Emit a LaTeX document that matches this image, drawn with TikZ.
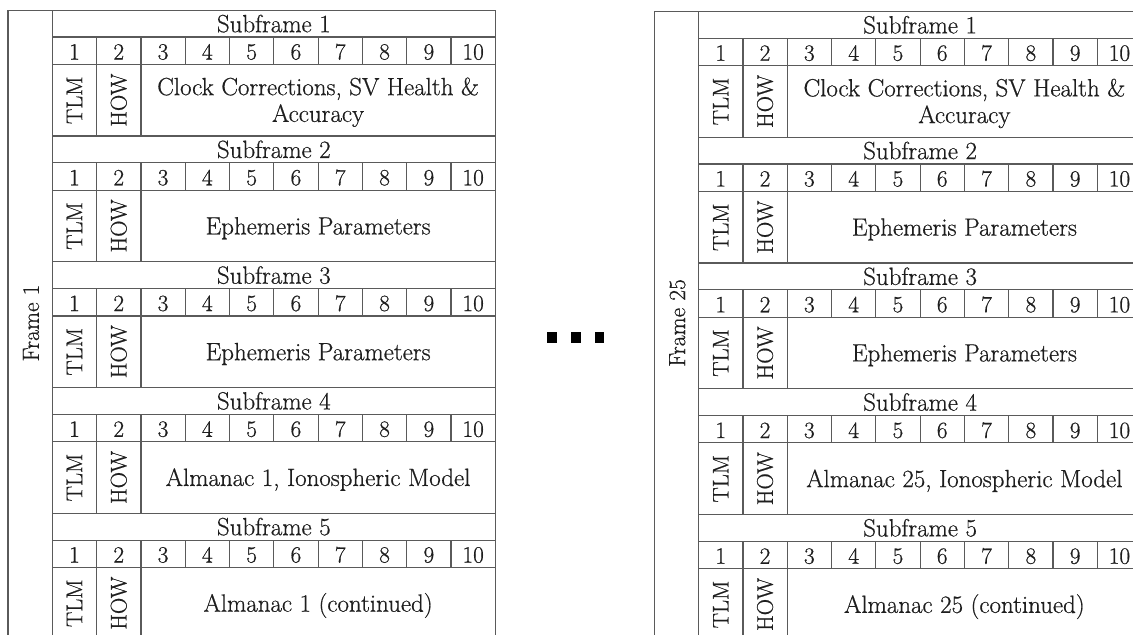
\documentclass[tikz,border=0pt]{standalone}
\usepackage{fontspec}
\setmainfont{Latin Modern Roman}[FakeBold=0.6]
\definecolor{gridgray}{HTML}{5A5A5A}
\definecolor{txt}{HTML}{1E1E1E}
\tikzset{
  gline/.style={draw=gridgray, line width=0.9pt},
  lbl/.style={anchor=base, font=\fontsize{18.7}{20}\selectfont, text=txt, inner sep=0pt},
  bodytwo/.style={anchor=center, align=center, font=\fontsize{18.7}{20}\selectfont, text=txt, inner sep=0pt},
  num/.style={anchor=base, font=\fontsize{17.5}{19}\selectfont, text=txt, inner sep=0pt},
  vtxt/.style={rotate=90, anchor=center, font=\fontsize{17}{19}\selectfont, text=txt, inner sep=0pt},
  framelbl/.style={rotate=90, anchor=center, font=\fontsize{17.6}{20}\selectfont, text=txt, inner sep=0pt},
  dotbox/.style={fill=black, draw=none, minimum width=7.1pt, minimum height=8.8pt, inner sep=0pt}
}
\newcommand{\gpsframe}[5]{%
  % #1 prefix, #2 outer x, #3 top y, #4 frame number, #5 almanac number
  \pgfmathsetmacro{\fxo}{#2}
  \pgfmathsetmacro{\fxi}{#2+44.3}
  \pgfmathsetmacro{\fxr}{#2+44.3+443}
  \pgfmathsetmacro{\fxb}{(\fxi+88.6+\fxr)/2}
  \draw[gline] (\fxo,#3) -- (\fxr,#3);
  \draw[gline] (\fxo,#3) -- (\fxo,640);
  \draw[gline] (\fxi,#3) -- (\fxi,640);
  \draw[gline] (\fxr,#3) -- (\fxr,640);
  \node[framelbl] (#1-frame) at ({\fxo+23},323) {Frame #4};
  \foreach \s in {0,...,4} {
    \pgfmathsetmacro{\ya}{#3+\s*125.75}
    \pgfmathsetmacro{\yb}{\ya+26.8}
    \pgfmathsetmacro{\yc}{\yb+27.3}
    \pgfmathsetmacro{\yd}{\ya+125.75}
    \pgfmathtruncatemacro{\sn}{\s+1}
    \draw[gline] (\fxi,\ya) -- (\fxr,\ya) (\fxi,\yb) -- (\fxr,\yb) (\fxi,\yc) -- (\fxr,\yc);
    \node[lbl] (#1-s\sn-title) at ({(\fxi+\fxr)/2},{(\ya+\yb)/2+8.5}) {Subframe \sn};
    \foreach \c in {1,...,10} {
      \node[num] (#1-s\sn-w\c) at ({\fxi+(\c-0.5)*44.3},{(\yb+\yc)/2+8.8}) {\c};
    }
    \foreach \c in {1,...,9} {
      \draw[gline] ({\fxi+\c*44.3},\yb) -- ({\fxi+\c*44.3},\yc);
    }
    \draw[gline] ({\fxi+44.3},\yc) -- ({\fxi+44.3},\yd) ({\fxi+88.6},\yc) -- ({\fxi+88.6},\yd);
    \node[vtxt] (#1-s\sn-tlm) at ({\fxi+22.15},{(\yc+\yd)/2}) {TLM};
    \node[vtxt] (#1-s\sn-how) at ({\fxi+66.45},{(\yc+\yd)/2}) {HOW};
  }
  \node[bodytwo] (#1-s1-body) at (\fxb,{#3+89.9+2}) {Clock Corrections, SV Health \&\\Accuracy};
  \node[lbl] (#1-s2-body) at (\fxb,{#3+125.75+89.9+8.5}) {Ephemeris Parameters};
  \node[lbl] (#1-s3-body) at (\fxb,{#3+2*125.75+89.9+8.5}) {Ephemeris Parameters};
  \node[lbl] (#1-s4-body) at (\fxb,{#3+3*125.75+89.9+8.5}) {Almanac #5, Ionospheric Model};
  \node[lbl] (#1-s5-body) at (\fxb,{#3+4*125.75+89.9+8.5}) {Almanac #5 (continued)};
}
\begin{document}
\begin{tikzpicture}[x=0.75pt, y=-0.75pt]
  \useasboundingbox (0,0) rectangle (1133,635);
  \clip (0,0) rectangle (1133,635);
  \fill[white] (0,0) rectangle (1133,635);
  \gpsframe{L}{8}{10.3}{1}{1}
  \gpsframe{R}{654.3}{11.5}{25}{25}
  \node[dotbox] (d1) at (552,337.5) {};
  \node[dotbox] (d2) at (576,337.5) {};
  \node[dotbox] (d3) at (599.7,337.5) {};
\end{tikzpicture}
\end{document}
